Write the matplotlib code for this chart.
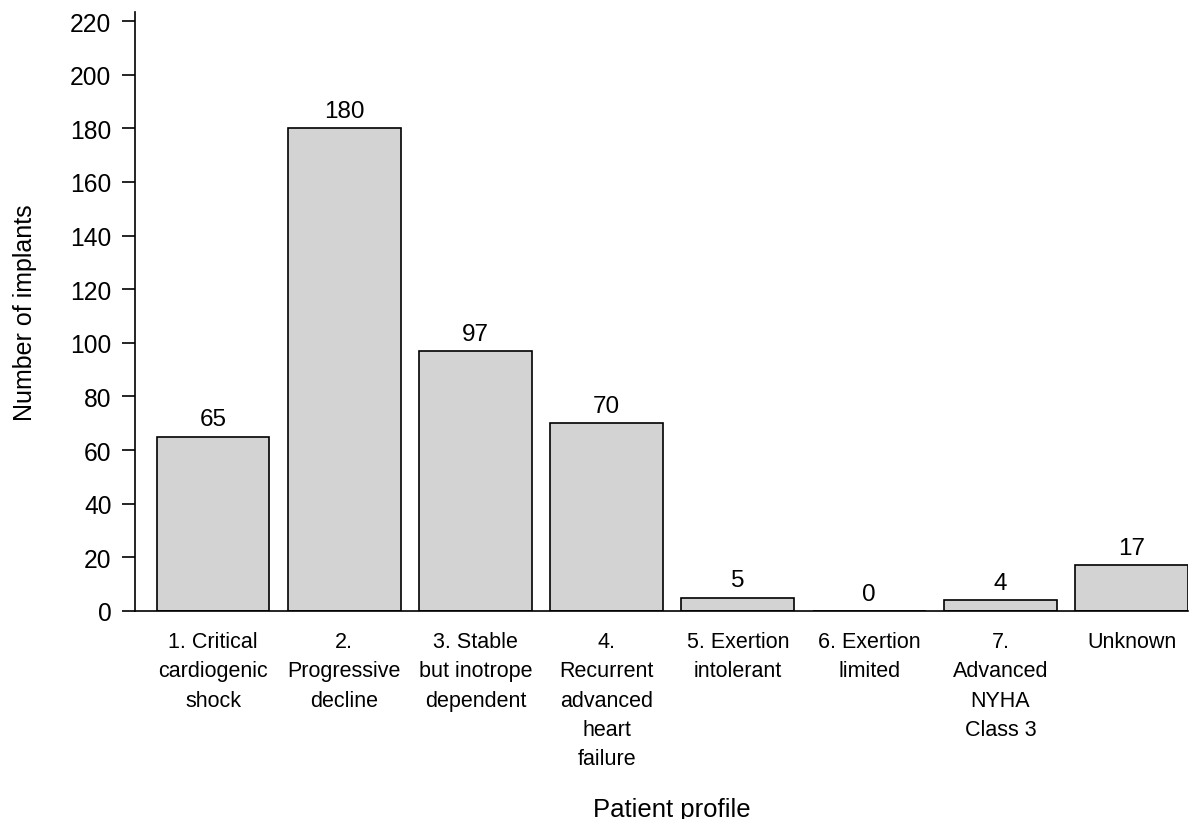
import matplotlib
matplotlib.use("Agg")
import matplotlib.pyplot as plt

categories = ["1. Critical\ncardiogenic\nshock", "2.\nProgressive\ndecline",
              "3. Stable\nbut inotrope\ndependent", "4.\nRecurrent\nadvanced\nheart\nfailure",
              "5. Exertion\nintolerant", "6. Exertion\nlimited",
              "7.\nAdvanced\nNYHA\nClass 3", "Unknown"]
values = [65, 180, 97, 70, 5, 0, 4, 17]
yticks = list(range(0, 221, 20))

plt.rcParams['font.family'] = ['Liberation Sans', 'DejaVu Sans']

fig = plt.figure(figsize=(11.98, 8.2), dpi=100)
ax = fig.add_axes([0.1127, 0.2537, 0.879, 0.7308])

x = list(range(len(categories)))
ax.bar(x, values, width=0.86, color='#d3d3d3', edgecolor='black', linewidth=1.2, zorder=2)
for xi, v in zip(x, values):
    ax.annotate(str(v), (xi, v), xytext=(0, 4.5), textcoords='offset points',
                ha='center', va='bottom', fontsize=17.5)

ax.set_xlim(-0.594, 7.43)
ax.set_ylim(0, 223.5)
ax.set_yticks(yticks)
ax.set_yticklabels([str(t) for t in yticks], fontsize=17.7)
ax.set_xticks(x)
ax.set_xticklabels(categories, fontsize=15.5, linespacing=1.52, va='top')
ax.tick_params(axis='x', length=0, pad=14.5)
ax.tick_params(axis='y', length=9.5, width=1.2, pad=7.5)
for s in ['top', 'right']:
    ax.spines[s].set_visible(False)
ax.spines['left'].set_linewidth(1.2)
ax.spines['bottom'].set_linewidth(1.2)
ax.spines['bottom'].set_zorder(3)

ax.set_ylabel("Number of implants", fontsize=18, labelpad=24)
fig.text(0.561, (820 - 817) / 820, "Patient profile", ha='center', va='baseline', fontsize=18.5)

fig.savefig("out.png", dpi=100)
